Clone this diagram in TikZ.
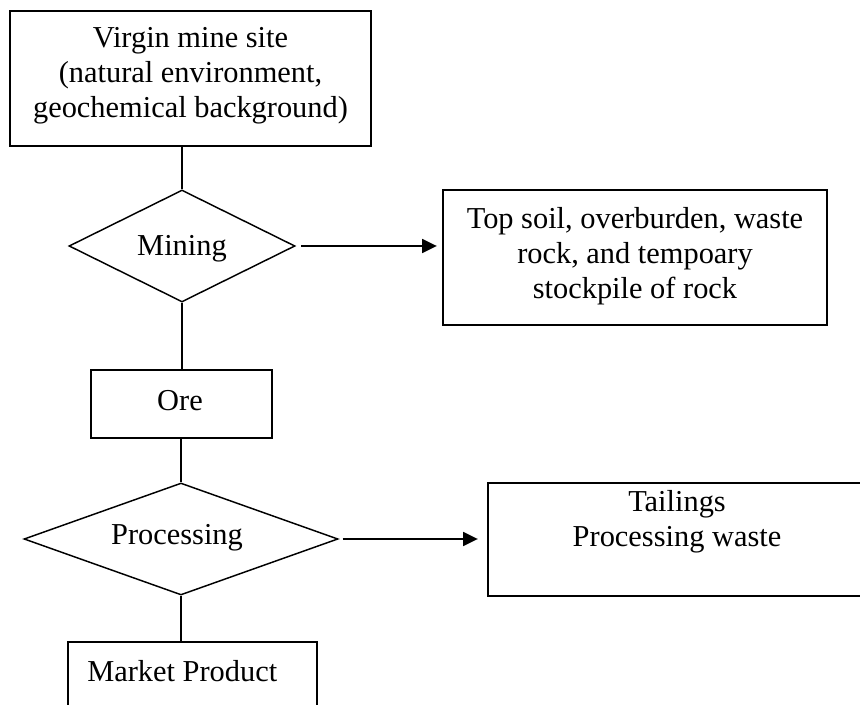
\documentclass[tikz,border=0pt]{standalone}
\usepackage{fontspec}
\setmainfont{Liberation Serif}
\usetikzlibrary{shapes.geometric,arrows.meta}
\begin{document}
\begin{tikzpicture}[x=0.75pt,y=-0.75pt,
  txt/.style={font=\fontsize{22.8}{26.3}\selectfont},
  box/.style={draw,line width=1.3pt,inner sep=0pt,align=center,txt},
  dia/.style={draw,diamond,line width=1.1pt,inner sep=0pt,txt},
  conn/.style={line width=1.1pt},
  arr/.style={conn,-{Triangle[length=11pt,width=10.5pt]}},
  lbl/.style={txt,align=center,inner sep=0pt}]
\useasboundingbox (0,0) rectangle (860,705);
\clip (0,0) rectangle (860,705);
\node[box,minimum width=270.75pt,minimum height=101.25pt] (top) at (190.5,78.5) {};
\node[lbl] (toptext) at (190.5,75.5)
  {Virgin mine site\\(natural environment,\\geochemical background)};
\node[dia,minimum width=169.5pt,minimum height=84pt] (mining) at (182,246) {};
\node[lbl] (miningtext) at (182,249) {Mining};
\node[box,minimum width=288pt,minimum height=101.25pt] (waste) at (635,257.5) {};
\node[lbl] (wastetext) at (635,256)
  {Top soil, overburden, waste\\rock, and tempoary\\stockpile of rock};
\node[box,minimum width=135.75pt,minimum height=51pt] (ore) at (181.5,404) {};
\node[lbl] (oretext) at (180,401) {Ore};
\node[dia,minimum width=235.5pt,minimum height=84pt] (proc) at (181,539) {};
\node[lbl] (proctext) at (177,538) {Processing};
\node[box,minimum width=283.5pt,minimum height=84.75pt] (tail) at (677,539.5) {};
\node[lbl] (tailtext) at (677,522) {Tailings\\Processing waste};
\node[box,minimum width=186.75pt,minimum height=88.5pt] (market) at (192.5,701) {};
\node[lbl,anchor=west] (markettext) at (87,671) {Market Product};
\draw[conn] (top.south -| mining.north) -- (mining.north);
\draw[arr,shorten <=4pt,shorten >=4pt] (mining.east) -- (mining.east -| waste.west);
\draw[conn] (mining.south) -- (mining.south |- ore.north);
\draw[conn] (ore.south -| proc.north) -- (proc.north);
\draw[arr,shorten <=3pt,shorten >=7pt] (proc.east) -- (proc.east -| tail.west);
\draw[conn] (proc.south) -- (proc.south |- market.north);
\end{tikzpicture}
\end{document}
